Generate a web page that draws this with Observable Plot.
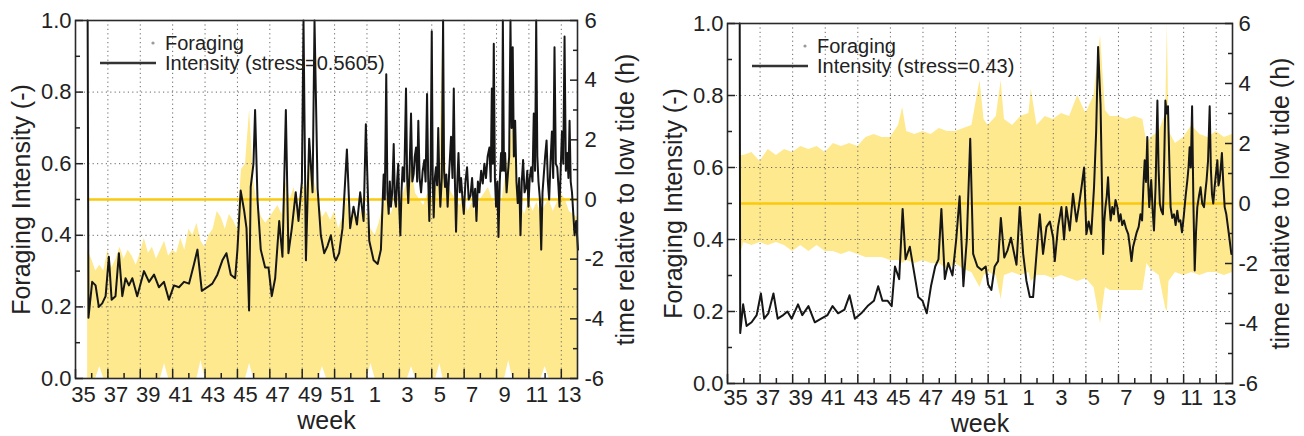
<!DOCTYPE html>
<html>
<head>
<meta charset="utf-8">
<script src="https://cdn.jsdelivr.net/npm/d3@7"></script>
<script src="https://cdn.jsdelivr.net/npm/@observablehq/plot@0.6"></script>
<style>
  body { margin: 0; background: #fff; }
  #wrap { position: relative; width: 1304px; height: 436px; background: #fff; }
  #wrap > svg { position: absolute; top: 0; }
</style>
</head>
<body>
<div id="wrap"></div>
<script>
// ---------- axis ticks / labels ----------
const weekTickPos = [0, 2, 4, 6, 8, 10, 12, 14, 16, 18, 20, 22, 24, 26, 28, 30];
const weekMinorPos = [1, 3, 5, 7, 9, 11, 13, 15, 17, 19, 21, 23, 25, 27, 29];
const weekLabels = [35, 37, 39, 41, 43, 45, 47, 49, 51, 1, 3, 5, 7, 9, 11, 13];
const intensityTicks = [0, 0.2, 0.4, 0.6, 0.8, 1.0];
const intensityMinor = [0.1, 0.3, 0.5, 0.7, 0.9];
const tideTicks = [-6, -4, -2, 0, 2, 4, 6];
const tideMinor = [-5, -3, -1, 1, 3, 5];
const tideZero = [0];

// ---------- left panel (stress = 0.5605) ----------
const leftStress = "0.5605";
const leftT = [0.75, 0.8, 1.03, 1.24, 1.44, 1.65, 1.86, 2.06, 2.23, 2.47,
  2.68, 2.89, 3.09, 3.30, 3.51, 3.81, 4.23, 4.54, 4.85, 5.15,
  5.46, 5.77, 6.08, 6.39, 6.70, 7.01, 7.32, 7.53, 7.80, 8.14,
  8.45, 8.76, 9.07, 9.32, 9.59, 9.86, 10.0, 10.2, 10.41, 10.56,
  10.72, 10.82, 10.99, 11.09, 11.24, 11.44, 11.71, 11.92, 12.12, 12.33,
  12.58, 12.78, 12.99, 13.15, 13.36, 13.6, 13.77, 13.98, 14.08, 14.23,
  14.43, 14.64, 14.76, 14.95, 15.15, 15.36, 15.56, 15.77, 15.98, 16.08,
  16.28, 16.49, 16.76, 16.96, 17.17, 17.38, 17.58, 17.79, 17.93, 18.14,
  18.41, 18.66, 18.86,
  19.03, 19.1, 19.19, 19.26, 19.34, 19.41, 19.48, 19.56, 19.65, 19.72,
  19.79, 19.86, 19.93, 20.0, 20.06, 20.13, 20.2, 20.3, 20.41, 20.48,
  20.55, 20.63, 20.72, 20.8, 20.88, 20.95, 21.03, 21.1, 21.17, 21.25,
  21.34, 21.44, 21.54, 21.62, 21.71, 21.78, 21.85, 21.93, 22.0, 22.06,
  22.12, 22.19, 22.26, 22.33, 22.4, 22.47, 22.53, 22.62, 22.7, 22.76,
  22.82, 22.9, 22.98, 23.08, 23.19, 23.28, 23.36, 23.43, 23.5, 23.58,
  23.65, 23.73, 23.81, 23.9, 23.98, 24.08, 24.18, 24.28, 24.39, 24.49,
  24.59, 24.68, 24.76, 24.85, 24.94, 25.05, 25.15, 25.25, 25.35, 25.45,
  25.56, 25.64, 25.71, 25.77, 25.83, 25.9, 25.97, 26.05, 26.12, 26.2,
  26.28, 26.34, 26.39, 26.46, 26.53, 26.62, 26.7, 26.78, 26.86, 26.93,
  27.0, 27.07, 27.15, 27.23, 27.31, 27.4, 27.48, 27.56, 27.64, 27.73,
  27.83, 27.9, 27.97, 28.05, 28.14, 28.22, 28.3, 28.38, 28.45, 28.52,
  28.59, 28.68, 28.76, 28.84, 28.92, 29.0, 29.09, 29.17, 29.25, 29.33,
  29.42, 29.5, 29.58, 29.66, 29.75, 29.82, 29.89, 29.96, 30.04, 30.12,
  30.2, 30.28, 30.37, 30.44, 30.51, 30.58, 30.66, 30.74, 30.82, 30.92,
  31.03];
const leftIntensity = [1.0, 0.17, 0.27, 0.26, 0.20, 0.21, 0.23, 0.34, 0.22, 0.23,
  0.35, 0.23, 0.28, 0.26, 0.28, 0.23, 0.30, 0.27, 0.29, 0.255,
  0.27, 0.22, 0.26, 0.255, 0.27, 0.265, 0.32, 0.36, 0.245, 0.255,
  0.265, 0.29, 0.33, 0.35, 0.29, 0.28, 0.36, 0.525, 0.47, 0.42,
  0.19, 0.535, 0.60, 0.75, 0.50, 0.36, 0.31, 0.31, 0.23, 0.28,
  0.44, 0.34, 0.75, 0.35, 0.42, 0.52, 0.44, 0.55, 1.0, 0.33,
  0.67, 0.52, 1.0, 0.53, 0.40, 0.35, 0.37, 0.40, 0.34, 0.33,
  0.35, 0.42, 0.64, 0.42, 0.48, 0.43, 0.52, 0.44, 0.71, 0.385,
  0.33, 0.32, 0.36,
  0.57, 0.50, 0.85, 0.52, 0.46, 0.55, 0.48, 0.52, 0.655, 0.50,
  0.48, 0.55, 0.60, 0.47, 0.40, 0.52, 0.59, 0.55, 0.81, 0.56,
  0.49, 0.58, 0.74, 0.55, 0.57, 0.62, 0.645, 0.55, 0.72, 0.56,
  0.52, 0.58, 0.61, 0.55, 0.795, 0.56, 0.44, 0.58, 0.97, 0.55,
  0.45, 0.56, 0.59, 0.54, 0.70, 0.55, 0.48, 0.56, 1.0, 0.58,
  0.535, 0.57, 0.48, 0.58, 0.675, 0.56, 0.81, 0.55, 0.41, 0.55,
  0.63, 0.52, 0.56, 0.50, 0.46, 0.55, 0.59, 0.50, 0.51, 0.56,
  0.48, 0.53, 0.44, 0.55, 0.52, 0.58, 0.545, 0.60, 0.56, 0.62,
  0.645, 0.55, 0.81, 0.60, 0.935, 0.56, 0.48, 0.55, 0.395, 0.55,
  0.63, 0.58, 1.0, 0.58, 0.63, 0.52, 0.57, 0.62, 1.0, 0.70,
  0.925, 0.62, 0.72, 0.55, 0.49, 0.56, 0.40, 0.55, 0.61, 0.52,
  0.535, 0.58, 0.48, 0.56, 0.59, 0.55, 0.74, 0.58, 1.0, 0.62,
  0.55, 0.50, 0.36, 0.52, 0.57, 0.62, 0.665, 0.55, 0.50, 0.60,
  0.69, 0.56, 0.925, 0.60, 0.59, 0.54, 0.48, 0.58, 0.69, 0.60,
  0.955, 0.58, 0.63, 0.56, 0.72, 0.55, 0.52, 0.46, 0.40, 0.44,
  0.36];
// foraging window, hours relative to low tide
const leftBandT = [0.75, 1.0, 1.25, 1.5, 1.75, 2.0, 2.25, 2.5, 2.75, 3.0,
  3.25, 3.5, 3.75, 4.0, 4.25, 4.5, 4.75, 5.0, 5.25, 5.5,
  5.75, 6.0, 6.25, 6.5, 6.75, 7.0, 7.25, 7.5, 7.75, 8.0,
  8.25, 8.5, 8.75, 9.0, 9.25, 9.5, 9.75, 10.0, 10.25, 10.5,
  10.75, 11.0, 11.25, 11.5, 11.75, 12.0, 12.25, 12.5, 12.75, 13.0,
  13.25, 13.5, 13.75, 14.0, 14.25, 14.5, 14.75, 15.0, 15.25, 15.5,
  15.75, 16.0, 16.25, 16.5, 16.75, 17.0, 17.25, 17.5, 17.75, 18.0,
  18.25, 18.5, 18.75, 19.0, 19.25, 19.5, 19.75, 20.0, 20.25, 20.5,
  20.75, 21.0, 21.25, 21.5, 21.75, 22.0, 22.25, 22.5, 22.7, 22.9,
  23.25, 23.5, 23.75, 24.0, 24.25, 24.5, 24.75, 25.0, 25.25, 25.5,
  25.75, 26.0, 26.25, 26.5, 26.75, 27.0, 27.25, 27.5, 27.75, 28.0,
  28.25, 28.5, 28.75, 29.0, 29.25, 29.5, 29.75, 30.0, 30.25, 30.5,
  30.75, 31.0];
const leftBandLo = [-6, -6, -6, -5.6, -6, -6, -6, -6, -6, -6,
  -6, -6, -6, -6, -6, -6, -6, -6, -6, -5.5,
  -6, -6, -6, -6, -6, -6, -6, -6, -5.4, -6,
  -6, -6, -6, -6, -6, -6, -6, -6, -6, -6,
  -5.5, -6, -6, -6, -6, -6, -6, -6, -6, -6,
  -6, -6, -6, -6, -6, -6, -6, -6, -5.6, -6,
  -6, -6, -6, -6, -6, -6, -6, -6, -6, -6,
  -5.5, -6, -6, -6, -6, -6, -6, -6, -6, -6,
  -5.6, -6, -6, -6, -6, -6, -6, -5.5, -6, -6,
  -6, -6, -6, -6, -6, -6, -6, -6, -6, -6,
  -6, -6, -6, -6, -5.4, -6, -6, -6, -6, -6,
  -6, -6, -6, -5.6, -6, -6, -6, -6, -6, -6,
  -6, -6];
const leftBandHi = [-1.7, -2.0, -2.4, -2.2, -2.4, -1.7, -2.3, -2.0, -1.6, -2.0,
  -1.7, -1.9, -2.2, -1.8, -1.3, -1.8, -1.6, -2.0, -1.7, -1.4,
  -1.9, -1.7, -1.8, -1.3, -1.7, -1.0, -1.2, -0.8, -1.4, -1.6,
  -1.2, -1.0, -0.4, -0.6, -1.0, -0.5, -0.7, -1.0, 1.0, 1.2,
  3.0, 0.6, -0.2, -0.6, -0.8, -0.6, -0.4, -0.2, -0.5, 0.6,
  0.0, 0.4, -0.4, 0.6, 0.2, 1.7, 0.6, 0.0, -0.6, -0.4,
  -0.7, -0.4, -1.0, -0.6, 0.0, -0.6, -0.4, -0.7, -0.2, -0.5,
  -1.0, -1.2, -0.8, -0.2, 0.0, -0.5, 0.0, -0.2, 0.2, 0.6,
  1.1, 0.2, 0.0, -0.2, 0.2, 0.0, 0.4, 1.2, 6.0, 0.6,
  0.2, 0.0, -0.2, 0.0, -0.4, -0.1, -0.5, 0.0, 0.2, 0.4,
  0.0, -0.2, -0.4, 0.6, 1.4, 2.6, 0.6, -0.2, -0.5, 0.0,
  -0.4, -0.1, -0.5, -0.2, 0.0, -0.4, -0.1, 0.2, 0.0, -0.4,
  -0.5, -0.6];

// ---------- right panel (stress = 0.43) ----------
const rightStress = "0.43";
const rightT = [0.75, 0.78, 0.96, 1.17, 1.48, 1.79, 2.05, 2.25, 2.51, 2.82,
  3.08, 3.42, 3.68, 3.94, 4.33, 4.59, 4.97, 5.36, 5.75, 6.14,
  6.45, 6.79, 7.18, 7.49, 7.82, 8.21, 8.6, 8.99, 9.25, 9.51,
  9.82, 10.08, 10.28, 10.54, 10.75, 10.93, 11.19, 11.45, 11.71, 11.97,
  12.23, 12.49, 12.75, 12.95, 13.13, 13.34, 13.55, 13.81, 14.04, 14.25,
  14.48, 14.69, 14.9, 15.08, 15.34, 15.6, 15.85, 16.0, 16.2, 16.4,
  16.61, 16.78, 16.99, 17.19, 17.4, 17.6, 17.74, 17.94, 18.15, 18.35,
  18.56, 18.76, 18.97, 19.17, 19.37, 19.58, 19.79, 19.99, 20.09, 20.29,
  20.5, 20.66, 20.8, 21.01, 21.21, 21.42, 21.56, 21.73, 21.89, 22.03,
  22.17, 22.33, 22.5, 22.63, 22.75,
  22.9, 23.06, 23.13, 23.2, 23.28, 23.36, 23.44, 23.52, 23.62, 23.72,
  23.82, 23.93, 24.03, 24.13, 24.23, 24.34, 24.47, 24.6, 24.7, 24.8,
  24.9, 25.01, 25.12, 25.24, 25.35, 25.45, 25.53, 25.61, 25.69, 25.77,
  25.83, 25.89, 25.95, 26.01, 26.1, 26.18, 26.28, 26.39, 26.46, 26.54,
  26.63, 26.73, 26.8, 26.88, 26.96, 27.04, 27.12, 27.2, 27.3, 27.41,
  27.51, 27.61, 27.7, 27.8, 27.9, 28.02, 28.12, 28.23, 28.3, 28.37,
  28.44, 28.52, 28.6, 28.68, 28.76, 28.84, 28.94, 29.04, 29.14, 29.25,
  29.33, 29.41, 29.5, 29.6, 29.67, 29.74, 29.82, 29.9, 29.98, 30.07,
  30.14, 30.21, 30.28, 30.35, 30.44, 30.52, 30.62, 30.72, 30.82, 30.93];
const rightIntensity = [1.0, 0.14, 0.22, 0.16, 0.17, 0.19, 0.25, 0.18, 0.195, 0.25,
  0.18, 0.19, 0.20, 0.18, 0.22, 0.19, 0.215, 0.17, 0.18, 0.19,
  0.215, 0.195, 0.205, 0.245, 0.18, 0.195, 0.215, 0.23, 0.27, 0.23,
  0.23, 0.215, 0.325, 0.29, 0.485, 0.345, 0.38, 0.31, 0.24, 0.23,
  0.195, 0.27, 0.325, 0.345, 0.485, 0.29, 0.335, 0.30, 0.40, 0.52,
  0.27, 0.40, 0.68, 0.36, 0.325, 0.315, 0.325, 0.275, 0.26, 0.325,
  0.34, 0.46, 0.35, 0.37, 0.405, 0.36, 0.33, 0.49, 0.36, 0.285,
  0.24, 0.24, 0.36, 0.47, 0.36, 0.435, 0.45, 0.405, 0.34, 0.435,
  0.49, 0.40, 0.49, 0.425, 0.527, 0.45, 0.49, 0.545, 0.60, 0.415,
  0.45, 0.415, 0.545, 0.70, 0.935,
  0.775, 0.36, 0.45, 0.49, 0.52, 0.573, 0.50, 0.453, 0.49, 0.47,
  0.51, 0.49, 0.45, 0.47, 0.44, 0.453, 0.43, 0.415, 0.38, 0.34,
  0.38, 0.40, 0.42, 0.435, 0.47, 0.453, 0.55, 0.62, 0.56, 0.685,
  0.55, 0.49, 0.53, 0.565, 0.48, 0.425, 0.55, 0.786, 0.60, 0.50,
  0.48, 0.47, 0.60, 0.786, 0.75, 0.77, 0.62, 0.49, 0.46, 0.47,
  0.44, 0.48, 0.45, 0.453, 0.42, 0.47, 0.52, 0.565, 0.60, 0.656,
  0.60, 0.77, 0.50, 0.314, 0.42, 0.49, 0.52, 0.545, 0.50, 0.49,
  0.53, 0.565, 0.62, 0.77, 0.60, 0.527, 0.50, 0.545, 0.58, 0.62,
  0.55, 0.565, 0.60, 0.64, 0.55, 0.49, 0.47, 0.435, 0.40, 0.36];
const rightBandT = [0.75, 0.85, 1.0, 1.5, 2.0, 2.5, 3.0, 3.5, 4.0, 4.5,
  5.0, 5.5, 6.0, 6.5, 7.0, 7.5, 8.0, 8.5, 9.0, 9.5,
  10.0, 10.5, 10.75, 11.0, 11.5, 12.0, 12.5, 13.0, 13.5, 14.0,
  14.5, 15.0, 15.5, 15.75, 16.0, 16.5, 16.8, 17.0, 17.5, 18.0,
  18.5, 18.65, 19.0, 19.5, 20.0, 20.5, 21.0, 21.5, 22.0, 22.5,
  22.9, 23.2, 23.5, 24.0, 24.5, 25.0, 25.5, 25.75, 26.0, 26.5,
  26.9, 27.0, 27.1, 27.5, 28.0, 28.5, 29.0, 29.5, 30.0, 30.5,
  31.0];
const rightBandLo = [-1.8, -1.6, -1.3, -1.4, -1.3, -1.4, -1.3, -1.4, -1.6, -1.4,
  -1.6, -1.4, -1.6, -1.6, -1.7, -1.6, -1.7, -1.8, -1.8, -1.8,
  -1.9, -1.9, -2.0, -1.9, -2.0, -1.9, -2.0, -2.0, -2.2, -2.0,
  -2.2, -2.3, -2.8, -2.4, -2.3, -2.4, -3.2, -2.4, -2.3, -2.4,
  -2.3, -2.6, -2.4, -2.4, -2.5, -2.4, -2.5, -2.6, -2.5, -2.8,
  -4.0, -2.8, -2.9, -2.9, -2.9, -2.9, -2.9, -2.0, -2.2, -2.4,
  -3.5, -3.6, -2.6, -2.3, -2.4, -2.3, -2.4, -2.3, -2.3, -2.4,
  -2.3];
const rightBandHi = [2.8, 1.6, 1.6, 1.7, 1.4, 1.8, 1.6, 1.8, 1.7, 1.9,
  1.8, 1.9, 1.7, 2.0, 1.9, 2.0, 1.9, 2.2, 2.3, 2.2,
  2.2, 2.6, 3.2, 2.4, 2.3, 2.4, 2.3, 2.5, 2.4, 2.4,
  2.5, 2.6, 4.1, 2.8, 2.6, 2.9, 4.1, 2.8, 2.6, 2.9,
  3.0, 3.8, 2.6, 2.9, 2.8, 3.0, 2.9, 3.6, 3.0, 3.6,
  5.6, 3.1, 2.9, 2.9, 2.8, 2.9, 2.8, 2.0, 2.2, 2.4,
  3.0, 6.0, 2.4, 2.0, 2.2, 2.6, 2.3, 2.2, 2.4, 2.2,
  2.3];

// ---------- drawing ----------
// secondary axis: hours relative to low tide (-6..6) share the frame with intensity (0..1)
const hToI = h => (h + 6) / 12;
const FONT = "'Liberation Sans', Arial, Helvetica, sans-serif";
const BAND = "#FEE98F";
const ZERO = "#F8C90C";
const INK = "#161616";

function panel(cfg) {
  const lineRows = cfg.t.map((t, i) => ({t, v: cfg.v[i]}));
  const bandRows = cfg.bt.map((t, i) => ({t, lo: hToI(cfg.lo[i]), hi: hToI(cfg.hi[i])}));
  const grid = {stroke: "#666", strokeOpacity: 1, strokeWidth: 1, strokeDasharray: "1.2,3.2"};
  const svg = Plot.plot({
    width: cfg.width, height: 436,
    marginLeft: cfg.ml, marginRight: cfg.mr, marginTop: cfg.mt, marginBottom: cfg.mb,
    style: {fontFamily: FONT, fontSize: "22px", color: "#222", background: "white"},
    x: {domain: [0, 31], label: null},
    y: {domain: [0, 1], label: null},
    marks: [
      Plot.areaY(bandRows, {x: "t", y1: "lo", y2: "hi", fill: BAND, curve: "linear"}),
      Plot.gridX(weekTickPos.slice(1), grid),
      Plot.gridY(intensityTicks.slice(1, -1), grid),
      Plot.ruleY(tideZero, {y: hToI, x1: cfg.bt[0], x2: cfg.bt[cfg.bt.length - 1], stroke: ZERO, strokeWidth: 2.6}),
      Plot.line(lineRows, {x: "t", y: "v", stroke: INK, strokeWidth: 2, strokeLinejoin: "round"}),
      Plot.frame({stroke: "#2a2a2a", strokeWidth: 1.6}),
      // left axis (intensity)
      Plot.axisY(intensityTicks, {anchor: "left", tickSize: 0, tickPadding: cfg.lpad, tickFormat: d => d.toFixed(1), label: null, fontSize: 22}),
      Plot.axisY(intensityTicks, {anchor: "left", tickSize: 8, dx: 8, fill: "none", tickFormat: () => "", label: null, strokeWidth: 1.5}),
      Plot.axisY(intensityMinor, {anchor: "left", tickSize: 5, dx: 5, fill: "none", tickFormat: () => "", label: null, strokeWidth: 1.5}),
      // right axis (time relative to low tide)
      Plot.axisY(tideTicks.map(hToI), {anchor: "right", tickSize: 0, tickPadding: cfg.rpad, tickFormat: v => String(Math.round(v * 12 - 6)), label: null, fontSize: 22}),
      Plot.axisY(tideTicks.map(hToI), {anchor: "right", tickSize: 8, dx: -8, fill: "none", tickFormat: () => "", label: null, strokeWidth: 1.5}),
      Plot.axisY(tideMinor.map(hToI), {anchor: "right", tickSize: 5, dx: -5, fill: "none", tickFormat: () => "", label: null, strokeWidth: 1.5}),
      // x axis (week)
      Plot.axisX(weekTickPos, {anchor: "bottom", tickSize: 0, tickPadding: cfg.xpad, dx: 8, tickFormat: d => String(weekLabels[weekTickPos.indexOf(d)]), label: null, fontSize: 22}),
      Plot.axisX(weekTickPos, {anchor: "bottom", tickSize: 9, dy: -9, fill: "none", tickFormat: () => "", label: null, strokeWidth: 1.5}),
      Plot.axisX(weekMinorPos, {anchor: "bottom", tickSize: 5, dy: -5, fill: "none", tickFormat: () => "", label: null, strokeWidth: 1.5}),
      // axis titles
      Plot.text(["Foraging Intensity (-)"], {frameAnchor: "left", dx: -54, rotate: -90, textAnchor: "middle", lineAnchor: "middle", fontSize: 25, fill: "#222"}),
      Plot.text(["time relative to low tide (h)"], {frameAnchor: "right", dx: 48, rotate: -90, textAnchor: "middle", lineAnchor: "middle", fontSize: 25, fill: "#222"}),
      Plot.text(["week"], {frameAnchor: "bottom", dy: cfg.wdy, textAnchor: "middle", lineAnchor: "middle", fontSize: 25, fill: "#222"})
    ]
  });
  // in-plot legend
  const g = d3.select(svg).append("g").attr("font-family", FONT).attr("font-size", 20)
    .attr("fill", "#222").attr("text-anchor", "start");
  const lx = cfg.ml, ly = cfg.mt;
  g.append("circle").attr("cx", lx + 78).attr("cy", ly + 23).attr("r", 1.6).attr("fill", "#9a9a9a");
  g.append("text").attr("x", lx + 90).attr("y", ly + 23).attr("dy", "0.35em").text("Foraging");
  g.append("line").attr("x1", lx + 25).attr("x2", lx + 81).attr("y1", ly + 43).attr("y2", ly + 43)
    .attr("stroke", "#333").attr("stroke-width", 2.6);
  g.append("text").attr("x", lx + 90).attr("y", ly + 43).attr("dy", "0.35em").text(`Intensity (stress=${cfg.stress})`);
  svg.style.left = cfg.left + "px";
  return svg;
}

const wrap = document.getElementById("wrap");
wrap.appendChild(panel({left: 0, width: 652, ml: 75, mr: 75, mt: 20, mb: 58, lpad: 4, rpad: 7, xpad: 8, wdy: 42,
  t: leftT, v: leftIntensity, bt: leftBandT, lo: leftBandLo, hi: leftBandHi, stress: leftStress}));
wrap.appendChild(panel({left: 652, width: 652, ml: 75, mr: 72, mt: 23, mb: 53, lpad: 4, rpad: 6, xpad: 6, wdy: 40,
  t: rightT, v: rightIntensity, bt: rightBandT, lo: rightBandLo, hi: rightBandHi, stress: rightStress}));
</script>
</body>
</html>
